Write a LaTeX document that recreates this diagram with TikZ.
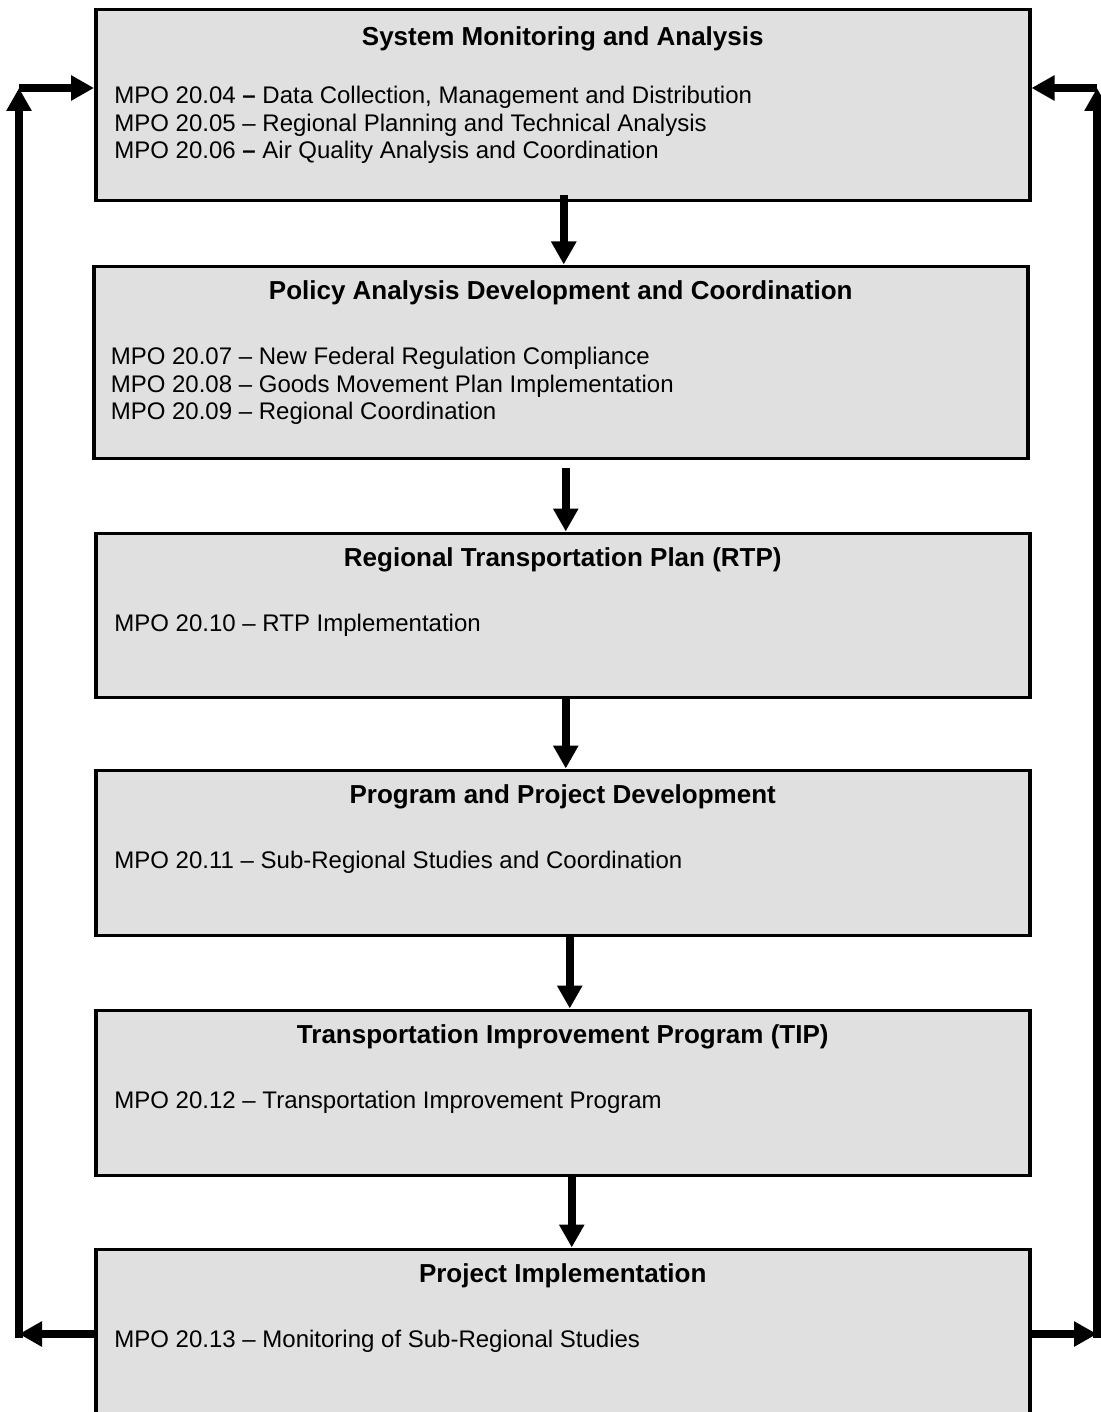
\documentclass[tikz,border=0pt]{standalone}
\usepackage{fontspec}
\setmainfont{Liberation Sans}
\usetikzlibrary{arrows.meta,positioning,calc}
\definecolor{boxgray}{RGB}{224,224,224}

\begin{document}
\begin{tikzpicture}[x=0.5pt,y=-0.5pt,
  stage/.style={rectangle, draw=black, line width=1.75pt, fill=boxgray,
                minimum width=467pt, inner sep=0pt, anchor=north west},
  head/.style={font=\fontsize{13}{15.6}\selectfont\bfseries, inner sep=0pt, anchor=base},
  item/.style={font=\fontsize{12}{14}\selectfont, inner sep=0pt, anchor=base west},
  flow/.style={-{Triangle[length=11.5pt,width=12pt]}, line width=4pt}
]
\clip (0,0) rectangle (1101,1412);

% Stages
\node[stage, minimum height=95.5pt] (monitor) at (94,8) {};
\node[stage, minimum height=96pt] (policy) at (92,264.5) {};
\node[stage, minimum height=82pt] (rtp) at (94,531.5) {};
\node[stage, minimum height=82.5pt] (project) at (94,768.5) {};
\node[stage, minimum height=82.5pt] (tip) at (94,1008.5) {};
\node[stage, minimum height=100pt] (impl) at (94,1247.5) {};

% Headings
\node[head] (monitorT) at ([yshift=-19pt]monitor.north) {System Monitoring and Analysis};
\node[head] (policyT) at ([yshift=-17.5pt]policy.north) {Policy Analysis Development and Coordination};
\node[head] (rtpT) at ([yshift=-17.5pt]rtp.north) {Regional Transportation Plan (RTP)};
\node[head] (projectT) at ([yshift=-17.5pt]project.north) {Program and Project Development};
\node[head] (tipT) at ([yshift=-17.5pt]tip.north) {Transportation Improvement Program (TIP)};
\node[head] (implT) at ([yshift=-17.5pt]impl.north) {Project Implementation};

% Work elements
\node[item] (monitor1) at ([xshift=10pt,yshift=-47.8pt]monitor.north west) {MPO 20.04 \textbf{–} Data Collection, Management and Distribution};
\node[item] (monitor2) at ([yshift=-14pt]monitor1.base west) {MPO 20.05 – Regional Planning and Technical Analysis};
\node[item] (monitor3) at ([yshift=-13.5pt]monitor2.base west) {MPO 20.06 \textbf{–} Air Quality Analysis and Coordination};
\node[item] (policy1) at ([xshift=9.2pt,yshift=-50pt]policy.north west) {MPO 20.07 – New Federal Regulation Compliance};
\node[item] (policy2) at ([yshift=-14pt]policy1.base west) {MPO 20.08 – Goods Movement Plan Implementation};
\node[item] (policy3) at ([yshift=-13.5pt]policy2.base west) {MPO 20.09 – Regional Coordination};
\node[item] (rtp1) at ([xshift=10pt,yshift=-50pt]rtp.north west) {MPO 20.10 – RTP Implementation};
\node[item] (project1) at ([xshift=10pt,yshift=-50pt]project.north west) {MPO 20.11 – Sub-Regional Studies and Coordination};
\node[item] (tip1) at ([xshift=10pt,yshift=-50pt]tip.north west) {MPO 20.12 – Transportation Improvement Program};
\node[item] (impl1) at ([xshift=10pt,yshift=-50pt]impl.north west) {MPO 20.13 – Monitoring of Sub-Regional Studies};

% Flow arrows
\draw[flow] ([xshift=0.5pt,yshift=3.5pt]monitor.south) -- ([xshift=0.5pt]monitor.south |- policy.north);
\draw[flow] ([xshift=2.5pt,yshift=-4pt]policy.south) -- ([xshift=2.5pt]policy.south |- rtp.north);
\draw[flow] ([xshift=1.5pt]rtp.south) -- ([xshift=1.5pt]rtp.south |- project.north);
\draw[flow] ([xshift=3.5pt]project.south) -- ([xshift=3.5pt]project.south |- tip.north);
\draw[flow] ([xshift=4.5pt]tip.south) -- ([xshift=4.5pt]tip.south |- impl.north);

% Feedback loops
\coordinate (lowL) at (19,1334);
\coordinate (upL) at (19,88);
\coordinate (lowR) at (1097,1334);
\coordinate (upR) at (1097,88);
\draw[flow] (impl.west |- lowL) -- (lowL);
\draw[flow] ([yshift=-2pt]lowL) -- (upL);
\draw[flow] (upL) -- (upL -| monitor.west);
\draw[flow] (impl.east |- lowR) -- (lowR);
\draw[flow] ([yshift=-2pt]lowR) -- (upR);
\draw[flow] (upR) -- (upR -| monitor.east);

\end{tikzpicture}
\end{document}
